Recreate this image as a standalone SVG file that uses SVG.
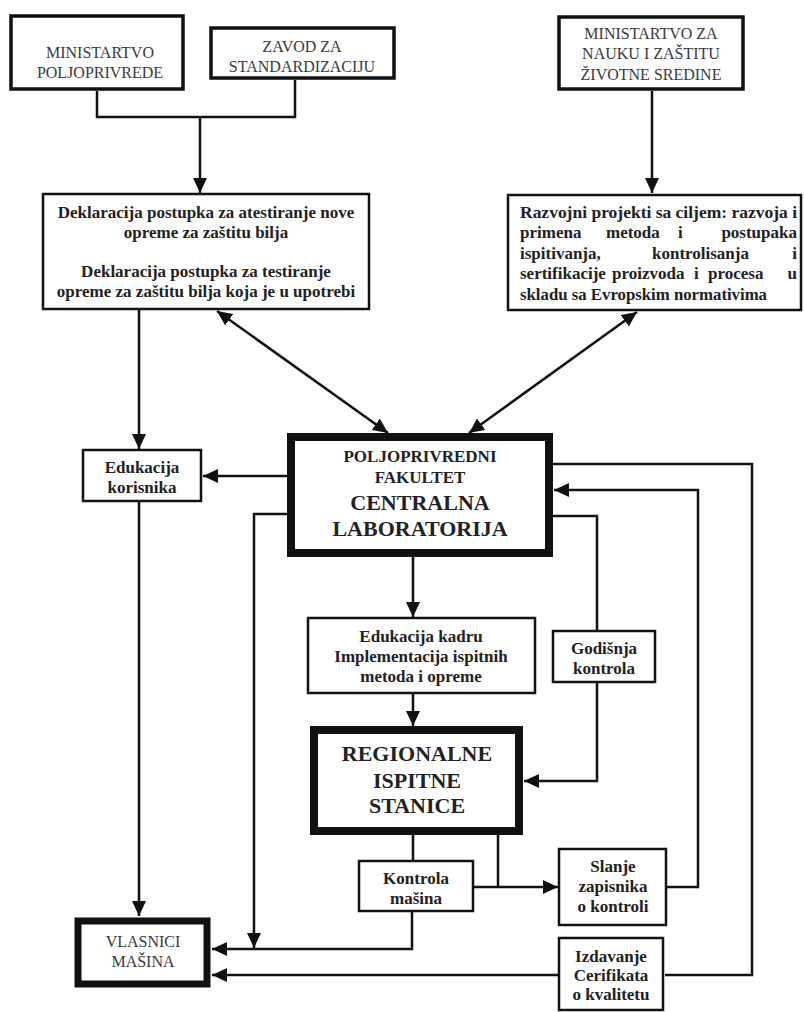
<svg xmlns="http://www.w3.org/2000/svg" width="804" height="1012" viewBox="0 0 804 1012">
<style>
.bx{fill:#fff;stroke:#111;stroke-width:2.5}
.bx3{fill:#fff;stroke:#111;stroke-width:3.5}
.bxk{fill:#fff;stroke:#111;stroke-width:8}
.reg{font-family:"Liberation Serif","Times New Roman",serif;font-size:16px;fill:#3a3a3a;text-anchor:middle}
.b{font-family:"Liberation Serif","Times New Roman",serif;font-size:17px;font-weight:bold;fill:#222;text-anchor:middle}
.bl{font-family:"Liberation Serif","Times New Roman",serif;font-size:17px;font-weight:bold;fill:#222;text-anchor:start}
.br{font-family:"Liberation Serif","Times New Roman",serif;font-size:17px;font-weight:bold;fill:#222;text-anchor:end}
.big{font-family:"Liberation Serif","Times New Roman",serif;font-size:22px;font-weight:bold;fill:#222;text-anchor:middle}
.c{fill:none;stroke:#111;stroke-width:2.5}
</style>
<defs>
<marker id="ah" markerUnits="userSpaceOnUse" markerWidth="16" markerHeight="14" refX="15" refY="7" orient="auto-start-reverse">
<path d="M0,0 L15,7 L0,14 z" fill="#111"/>
</marker>
</defs>
<rect width="804" height="1012" fill="#fff"/>

<g id="connectors">
<path class="c" d="M97,91 V117 H295 V80"/>
<path class="c" d="M200,117 V193" marker-end="url(#ah)"/>
<path class="c" d="M652,91 V193" marker-end="url(#ah)"/>
<path class="c" d="M217,311 L388,433" marker-start="url(#ah)" marker-end="url(#ah)"/>
<path class="c" d="M637,312 L469,433" marker-start="url(#ah)" marker-end="url(#ah)"/>
<path class="c" d="M139,310 V449" marker-end="url(#ah)"/>
<path class="c" d="M287,476 H203" marker-end="url(#ah)"/>
<path class="c" d="M139,502 V916" marker-end="url(#ah)"/>
<path class="c" d="M287,514 H254 V948" marker-end="url(#ah)"/>
<path class="c" d="M412,912 V949 H212" marker-end="url(#ah)"/>
<path class="c" d="M413,557 V617" marker-end="url(#ah)"/>
<path class="c" d="M413,694 V726" marker-end="url(#ah)"/>
<path class="c" d="M553,516 H597 V630"/>
<path class="c" d="M597,683 V781 H524" marker-end="url(#ah)"/>
<path class="c" d="M413,835 V860"/>
<path class="c" d="M498,835 V887"/>
<path class="c" d="M474,887 H558" marker-end="url(#ah)"/>
<path class="c" d="M667,887 H698 V490 H554" marker-end="url(#ah)"/>
<path class="c" d="M553,464 H752 V975 H665"/>
<path class="c" d="M558,975 H212" marker-end="url(#ah)"/>
</g>

<g id="ministarstvo-poljoprivrede">
<rect class="bx3" x="11" y="16" width="172" height="73"/>
<text class="reg" x="100" y="58">MINISTARTVO</text>
<text class="reg" x="100" y="78">POLJOPRIVREDE</text>
</g>

<g id="zavod">
<rect class="bx3" x="211" y="28" width="183" height="50"/>
<text class="reg" x="302" y="52">ZAVOD ZA</text>
<text class="reg" x="302" y="72">STANDARDIZACIJU</text>
</g>

<g id="ministarstvo-nauka">
<rect class="bx3" x="559" y="17" width="184" height="72"/>
<text class="reg" x="651" y="39">MINISTARTVO ZA</text>
<text class="reg" x="651" y="59">NAUKU I ZAŠTITU</text>
<text class="reg" x="651" y="80">ŽIVOTNE SREDINE</text>
</g>

<g id="deklaracija">
<rect class="bx" x="43" y="194" width="326" height="115"/>
<text class="b" x="206" y="218">Deklaracija postupka za atestiranje nove</text>
<text class="b" x="206" y="238">opreme za zaštitu bilja</text>
<text class="b" x="206" y="277">Deklaracija postupka za testiranje</text>
<text class="b" x="206" y="297">opreme za zaštitu bilja koja je u upotrebi</text>
</g>

<g id="razvojni">
<rect class="bx" x="508" y="195" width="293" height="115"/>
<text class="bl" x="520" y="218" textLength="277" lengthAdjust="spacingAndGlyphs">Razvojni projekti sa ciljem: razvoja i</text>
<text class="bl" y="238"><tspan x="520">primena</tspan><tspan x="606">metoda</tspan><tspan x="678">i</tspan></text>
<text class="br" x="797" y="238">postupaka</text>
<text class="bl" y="259"><tspan x="520">ispitivanja,</tspan><tspan x="652">kontrolisanja</tspan></text>
<text class="br" x="797" y="259">i</text>
<text class="bl" y="279"><tspan x="520">sertifikacije</tspan><tspan x="612">proizvoda</tspan><tspan x="694">i</tspan><tspan x="708">procesa</tspan></text>
<text class="br" x="797" y="279">u</text>
<text class="bl" x="520" y="300" textLength="247" lengthAdjust="spacingAndGlyphs">skladu sa Evropskim normativima</text>
</g>

<g id="edukacija-korisnika">
<rect class="bx" x="83" y="450" width="118" height="51"/>
<text class="b" x="142" y="473">Edukacija</text>
<text class="b" x="142" y="493">korisnika</text>
</g>

<g id="centralna-laboratorija">
<rect class="bxk" x="291" y="437" width="258" height="116"/>
<text class="b" x="420" y="462">POLJOPRIVREDNI</text>
<text class="b" x="420" y="483">FAKULTET</text>
<text class="big" x="420" y="510">CENTRALNA</text>
<text class="big" x="420" y="536">LABORATORIJA</text>
</g>

<g id="edukacija-kadru">
<rect class="bx" x="308" y="618" width="227" height="75"/>
<text class="b" x="421" y="642">Edukacija kadru</text>
<text class="b" x="421" y="662">Implementacija ispitnih</text>
<text class="b" x="421" y="682">metoda i opreme</text>
</g>

<g id="godisnja-kontrola">
<rect class="bx" x="553" y="631" width="102" height="51"/>
<text class="b" x="604" y="654">Godišnja</text>
<text class="b" x="604" y="674">kontrola</text>
</g>

<g id="regionalne">
<rect class="bxk" x="314" y="730" width="205" height="101"/>
<text class="big" x="417" y="761">REGIONALNE</text>
<text class="big" x="417" y="788">ISPITNE</text>
<text class="big" x="417" y="813">STANICE</text>
</g>

<g id="kontrola-masina">
<rect class="bx" x="359" y="861" width="114" height="50"/>
<text class="b" x="416" y="884">Kontrola</text>
<text class="b" x="416" y="904">mašina</text>
</g>

<g id="slanje">
<rect class="bx" x="559" y="849" width="107" height="76"/>
<text class="b" x="613" y="872">Slanje</text>
<text class="b" x="613" y="892">zapisnika</text>
<text class="b" x="613" y="912">o kontroli</text>
</g>

<g id="izdavanje">
<rect class="bx" x="559" y="938" width="104" height="72"/>
<text class="b" x="611" y="962">Izdavanje</text>
<text class="b" x="611" y="981">Cerifikata</text>
<text class="b" x="611" y="1000">o kvalitetu</text>
</g>

<g id="vlasnici">
<rect class="bx" x="78" y="921" width="129" height="63" style="stroke-width:7"/>
<text class="reg" x="143" y="947">VLASNICI</text>
<text class="reg" x="143" y="967">MAŠINA</text>
</g>
</svg>
